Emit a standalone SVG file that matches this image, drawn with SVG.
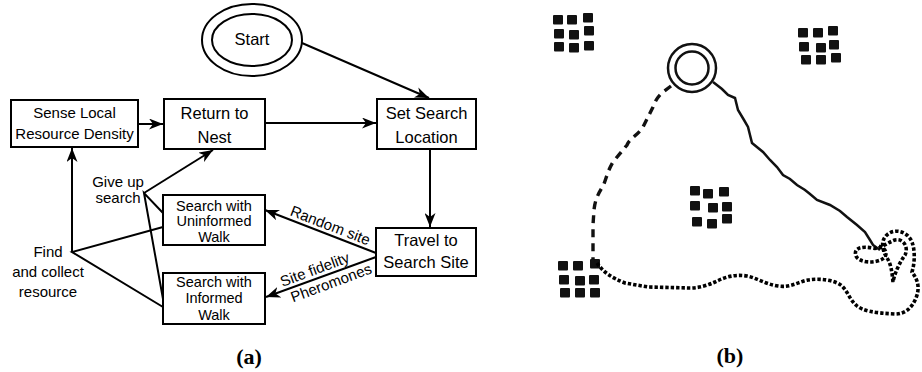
<svg xmlns="http://www.w3.org/2000/svg" width="922" height="372" viewBox="0 0 922 372">
<style>
.box{fill:#fff;stroke:#000;stroke-width:2}
.ln{fill:none;stroke:#000;stroke-width:2}
.t{font-family:"Liberation Sans",Arial,sans-serif;fill:#000;text-anchor:middle}
.big{font-size:16.5px}
.mid{font-size:14.5px}
.sm{font-size:15px}
.cap{font-family:"Liberation Serif","Times New Roman",serif;font-weight:bold;font-size:22px;text-anchor:middle;fill:#000}
.sq{fill:#111}
</style>
<defs>
<marker id="arr" markerUnits="userSpaceOnUse" markerWidth="15" markerHeight="11" refX="14" refY="5.5" orient="auto">
<path d="M0,0 L14,5.5 L0,11 L4,5.5 Z" fill="#000"/>
</marker>
</defs>
<g id="connectors">
<line class="ln" x1="302" y1="43" x2="429" y2="98" marker-end="url(#arr)"/>
<line class="ln" x1="138" y1="124" x2="163" y2="124" marker-end="url(#arr)"/>
<line class="ln" x1="265" y1="123" x2="376" y2="123" marker-end="url(#arr)"/>
<line class="ln" x1="430" y1="149" x2="430" y2="227" marker-end="url(#arr)"/>
<line class="ln" x1="376" y1="253" x2="265" y2="210" marker-end="url(#arr)"/>
<line class="ln" x1="376" y1="257" x2="266" y2="297" marker-end="url(#arr)"/>
<polyline class="ln" points="163,227 72,252 163,307"/>
<line class="ln" x1="72" y1="252" x2="72" y2="148" marker-end="url(#arr)"/>
<line class="ln" x1="144" y1="193" x2="213" y2="150" marker-end="url(#arr)"/>
<polyline class="ln" points="163,213 144,193 163,299"/>
<text class="t sm" transform="translate(327,234) rotate(21.2)" y="-4">Random site</text>
<text class="t sm" transform="translate(318,278) rotate(-20.4)" y="-4">Site fidelity</text>
<text class="t sm" transform="translate(328,274.5) rotate(-20.4)" y="14">Pheromones</text>
<text class="t sm" x="118" y="187">Give up</text>
<text class="t sm" x="118" y="203">search</text>
<text class="t sm" x="48" y="257">Find</text>
<text class="t sm" x="48" y="277">and collect</text>
<text class="t sm" x="48" y="297">resource</text>
</g>
<g id="start">
<ellipse cx="252" cy="40" rx="50" ry="36" fill="#fff" stroke="#000" stroke-width="2"/>
<ellipse cx="252" cy="40" rx="40" ry="26" fill="none" stroke="#000" stroke-width="2"/>
<text class="t big" x="252" y="45">Start</text>
</g>
<g id="sense">
<rect class="box" x="11" y="100" width="127" height="47"/>
<text class="t sm" x="74.5" y="118">Sense Local</text>
<text class="t sm" x="74.5" y="139">Resource Density</text>
</g>
<g id="return">
<rect class="box" x="164" y="99" width="101" height="50"/>
<text class="t big" x="214.5" y="119">Return to</text>
<text class="t big" x="214.5" y="143">Nest</text>
</g>
<g id="setsearch">
<rect class="box" x="377" y="99" width="99" height="50"/>
<text class="t big" x="426.5" y="119">Set Search</text>
<text class="t big" x="426.5" y="143">Location</text>
</g>
<g id="travel">
<rect class="box" x="376" y="228" width="100" height="48"/>
<text class="t big" x="426" y="246">Travel to</text>
<text class="t big" x="426" y="268">Search Site</text>
</g>
<g id="uninformed">
<rect class="box" x="163" y="195" width="102" height="50"/>
<text class="t mid" x="214" y="210.5">Search with</text>
<text class="t mid" x="214" y="226">Uninformed</text>
<text class="t mid" x="214" y="242">Walk</text>
</g>
<g id="informed">
<rect class="box" x="163" y="273" width="102" height="51"/>
<text class="t mid" x="214" y="287">Search with</text>
<text class="t mid" x="214" y="303">Informed</text>
<text class="t mid" x="214" y="319.5">Walk</text>
</g>
<text class="cap" x="249" y="364">(a)</text>
<g id="panel-b">
<g id="grid-tl">
<rect class="sq" x="553" y="15" width="10" height="9.5" rx="1"/>
<rect class="sq" x="567" y="15" width="10" height="9.5" rx="1"/>
<rect class="sq" x="583" y="13" width="10" height="9.5" rx="1"/>
<rect class="sq" x="554" y="29" width="10" height="9.5" rx="1"/>
<rect class="sq" x="569" y="30" width="10" height="9.5" rx="1"/>
<rect class="sq" x="584" y="26" width="10" height="9.5" rx="1"/>
<rect class="sq" x="554" y="42" width="10" height="9.5" rx="1"/>
<rect class="sq" x="569" y="43" width="10" height="9.5" rx="1"/>
<rect class="sq" x="584" y="41" width="10" height="9.5" rx="1"/>
</g>
<g id="grid-tr">
<rect class="sq" x="798" y="28" width="10" height="9.5" rx="1"/>
<rect class="sq" x="813" y="28" width="10" height="9.5" rx="1"/>
<rect class="sq" x="828" y="26" width="10" height="9.5" rx="1"/>
<rect class="sq" x="799" y="42" width="10" height="9.5" rx="1"/>
<rect class="sq" x="816" y="43" width="10" height="9.5" rx="1"/>
<rect class="sq" x="829" y="40" width="10" height="9.5" rx="1"/>
<rect class="sq" x="801" y="55" width="10" height="9.5" rx="1"/>
<rect class="sq" x="816" y="55" width="10" height="9.5" rx="1"/>
<rect class="sq" x="831" y="53" width="10" height="9.5" rx="1"/>
</g>
<g id="grid-mid">
<rect class="sq" x="690" y="186" width="10" height="9.5" rx="1"/>
<rect class="sq" x="703" y="189" width="10" height="9.5" rx="1"/>
<rect class="sq" x="719" y="187" width="10" height="9.5" rx="1"/>
<rect class="sq" x="690" y="201" width="10" height="9.5" rx="1"/>
<rect class="sq" x="708" y="203" width="10" height="9.5" rx="1"/>
<rect class="sq" x="722" y="202" width="10" height="9.5" rx="1"/>
<rect class="sq" x="692" y="217" width="10" height="9.5" rx="1"/>
<rect class="sq" x="707" y="219" width="10" height="9.5" rx="1"/>
<rect class="sq" x="722" y="214" width="10" height="9.5" rx="1"/>
</g>
<g id="grid-bl">
<rect class="sq" x="558" y="261" width="10" height="9.5" rx="1"/>
<rect class="sq" x="573" y="261" width="10" height="9.5" rx="1"/>
<rect class="sq" x="590" y="259" width="10" height="9.5" rx="1"/>
<rect class="sq" x="559" y="275" width="10" height="9.5" rx="1"/>
<rect class="sq" x="575" y="276" width="10" height="9.5" rx="1"/>
<rect class="sq" x="589" y="275" width="10" height="9.5" rx="1"/>
<rect class="sq" x="560" y="288" width="10" height="9.5" rx="1"/>
<rect class="sq" x="575" y="288" width="10" height="9.5" rx="1"/>
<rect class="sq" x="590" y="288" width="10" height="9.5" rx="1"/>
</g>
<path d="M671,86 L663,92 C657,97 655,102 653,107 L643,127 C638,135 630,138 627,145 L613,162 C607,172 606,180 603,186 C598,194 595,200 594,210 L593,225 L593,262" fill="none" stroke="#111" stroke-width="3.4" stroke-dasharray="8,6"/>
<path d="M713,82 L722,89 L728,95 L735,98 L738,110 L744,120 L748,127 L750,135 L752,143 L763,152 L770,160 L777,167 L783,175 L790,179 L797,185 L805,190 L810,194 L817,200 L830,205 L840,211 L847,217 L857,225 L865,232 L870,240 L873,245 L880,250" fill="none" stroke="#111" stroke-width="2.5"/>
<path d="M597,263 C603,272 612,278 625,283 L648,287 L690,288 C700,288 708,285 715,282 C725,277 735,274 747,276 C757,278 765,284 778,286 C790,288 798,282 808,280 C820,278 835,280 842,286 C848,292 850,300 856,305 C862,311 875,313 895,314 C905,314 912,308 916,298 C920,288 918,280 912,272 C915,262 915,250 912,242 C908,232 896,228 888,234 C880,240 882,250 887,258 C891,264 892,272 893,282 C895,272 900,262 905,255 C909,247 903,238 895,240 C886,243 880,250 872,248 C862,246 853,248 856,256 C859,263 876,264 884,258 C888,254 886,248 878,246" fill="none" stroke="#000" stroke-width="3.6" stroke-dasharray="3.4,2"/>
<g id="nest">
<circle cx="692" cy="68" r="24" fill="#fff" stroke="#111" stroke-width="2.5"/>
<circle cx="692" cy="68" r="16.5" fill="none" stroke="#111" stroke-width="2.5"/>
</g>
</g>
<text class="cap" x="730" y="363">(b)</text>
</svg>
